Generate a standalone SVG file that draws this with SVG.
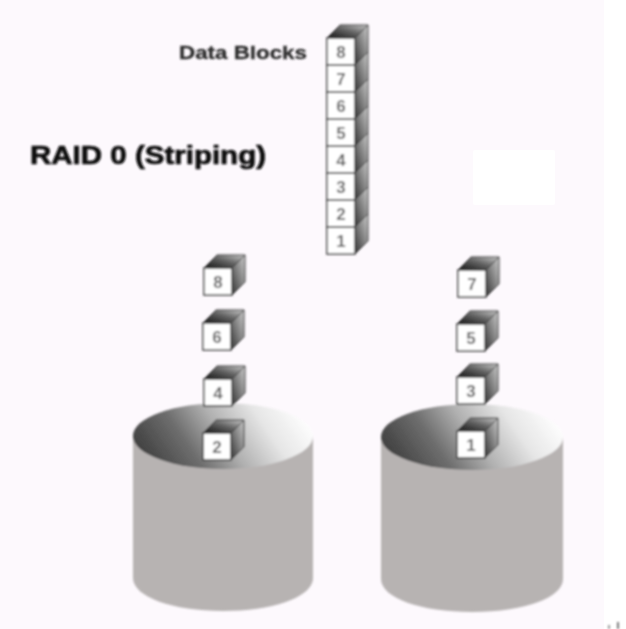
<svg xmlns="http://www.w3.org/2000/svg" width="626" height="629" viewBox="0 0 626 629">
<style>
text{font-family:"Liberation Sans",Arial,sans-serif;font-weight:bold}
.n{font-size:17px;fill:#666;text-anchor:middle}
.title{font-size:25px;fill:#111;stroke:#111;stroke-width:.7}
.label{font-size:19px;fill:#2a2a2a;stroke:#2a2a2a;stroke-width:.3}
.body{fill:#b7b3b2}
</style>
<defs>
<linearGradient id="top" x1="0" x2="1" y1=".6" y2=".35">
<stop offset="0" stop-color="#3f3f3f"/><stop offset=".28" stop-color="#6e6e6e"/><stop offset=".5" stop-color="#b0b0b0"/><stop offset=".75" stop-color="#e6e6e6"/><stop offset="1" stop-color="#fff"/>
</linearGradient>
<linearGradient id="side" x1="0" x2="1" y1="1" y2="0">
<stop offset="0" stop-color="#333"/><stop offset=".55" stop-color="#888"/><stop offset="1" stop-color="#ccc"/>
</linearGradient>
<linearGradient id="lid" x1="0" x2="1" y1="1" y2="0">
<stop offset="0" stop-color="#111"/><stop offset=".55" stop-color="#666"/><stop offset="1" stop-color="#ccc"/>
</linearGradient>
<g id="cube">
<path d="M0 0L13-13H41L28 0Z" fill="url(#lid)" stroke="#333"/>
<path d="M28 0L41-13V14L28 27Z" fill="url(#side)" stroke="#333"/>
<rect width="28" height="27" fill="#fff" stroke="#444" stroke-width="1.6"/>
</g>
<filter id="soft" x="-5%" y="-5%" width="110%" height="110%"><feGaussianBlur stdDeviation=".9"/></filter>
</defs>
<rect width="604" height="629" fill="#fdf9fd"/>
<rect x="473" y="150" width="82" height="55" fill="#fff" rx="2"/>
<g filter="url(#soft)">
<g id="disk-left">
<path class="body" d="M133 436V578C133 597 173 611 223 611S313 597 313 578V436Z"/>
<ellipse cx="223" cy="436" rx="90" ry="33" fill="url(#top)"/>
</g>
<g id="disk-right">
<path class="body" d="M381 437V579C381 598 421 612 472 612S563 598 563 579V437Z"/>
<ellipse cx="472" cy="437" rx="91" ry="33" fill="url(#top)"/>
</g>
<text class="label" x="179" y="59" textLength="128" lengthAdjust="spacingAndGlyphs">Data Blocks</text>
<text class="title" x="30" y="164" textLength="236" lengthAdjust="spacingAndGlyphs">RAID 0 (Striping)</text>
<g id="stack">
<g id="s1"><use href="#cube" x="327" y="227"/><text class="n" x="341" y="247">1</text></g>
<g id="s2"><use href="#cube" x="327" y="200"/><text class="n" x="341" y="220">2</text></g>
<g id="s3"><use href="#cube" x="327" y="173"/><text class="n" x="341" y="193">3</text></g>
<g id="s4"><use href="#cube" x="327" y="146"/><text class="n" x="341" y="166">4</text></g>
<g id="s5"><use href="#cube" x="327" y="119"/><text class="n" x="341" y="139">5</text></g>
<g id="s6"><use href="#cube" x="327" y="92"/><text class="n" x="341" y="112">6</text></g>
<g id="s7"><use href="#cube" x="327" y="65"/><text class="n" x="341" y="85">7</text></g>
<g id="s8"><use href="#cube" x="327" y="38"/><text class="n" x="341" y="58">8</text></g>
</g>
<g id="l8"><use href="#cube" x="204" y="268"/><text class="n" x="218" y="288">8</text></g>
<g id="l6"><use href="#cube" x="203" y="323"/><text class="n" x="217" y="343">6</text></g>
<g id="l4"><use href="#cube" x="204" y="379"/><text class="n" x="218" y="399">4</text></g>
<g id="l2"><use href="#cube" x="203" y="433"/><text class="n" x="217" y="453">2</text></g>
<g id="r7"><use href="#cube" x="458" y="270"/><text class="n" x="472" y="290">7</text></g>
<g id="r5"><use href="#cube" x="457" y="324"/><text class="n" x="471" y="344">5</text></g>
<g id="r3"><use href="#cube" x="457" y="377"/><text class="n" x="471" y="397">3</text></g>
<g id="r1"><use href="#cube" x="457" y="431"/><text class="n" x="471" y="451">1</text></g>
<rect x="608" y="625" width="2" height="4" fill="#999"/>
<rect x="617" y="622" width="2" height="7" fill="#777"/>
</g>
</svg>
